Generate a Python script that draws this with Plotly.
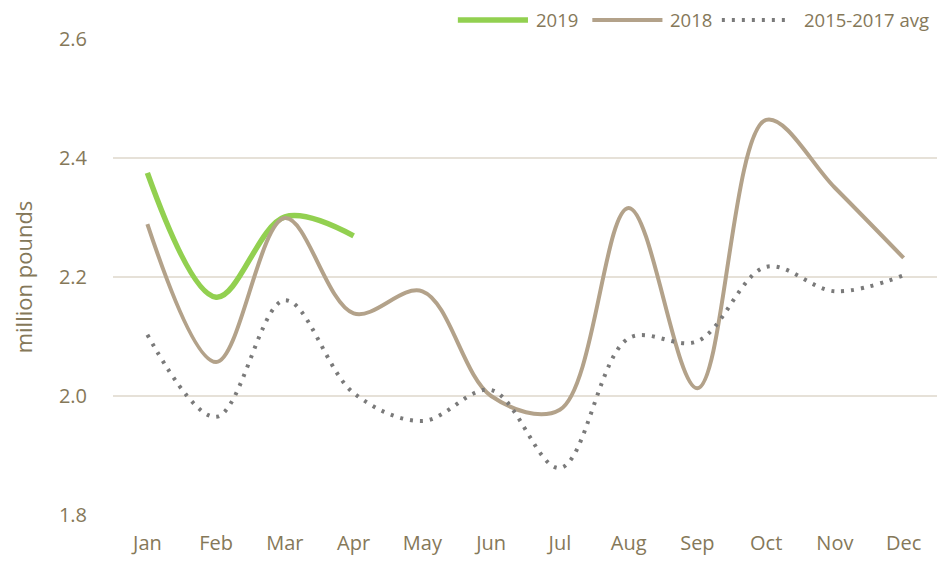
import plotly.graph_objects as go

months = ["Jan", "Feb", "Mar", "Apr", "May", "Jun", "Jul", "Aug", "Sep", "Oct", "Nov", "Dec"]
y2019 = [2.375, 2.166, 2.301, 2.269]
y2018 = [2.289, 2.057, 2.299, 2.139, 2.176, 2.000, 1.977, 2.316, 2.013, 2.464, 2.350, 2.232]
avg_15_17 = [2.103, 1.965, 2.161, 2.005, 1.958, 2.010, 1.879, 2.097, 2.092, 2.217, 2.176, 2.203]

series_names = ["2019", "2018", "2015-2017 avg"]
series_colors = ["#92d050", "#b3a28a", "#7a7a7a"]
series_widths = [5.5, 4, 4]
series_dash = ["solid", "solid", "3px,7px"]

text_color = "#857859"
grid_color = "#e6e1d8"

fig = go.Figure()
for name, xs, ys, c, w, d in zip(series_names, [months[:len(y2019)], months, months],
                                 [y2019, y2018, avg_15_17], series_colors, series_widths, series_dash):
    fig.add_trace(go.Scatter(x=xs, y=ys, name=name, mode="lines", showlegend=False,
                             line=dict(color=c, width=w, dash=d, shape="spline", smoothing=1.0)))

# manual legend (long line samples like the original)
leg_y = 1.04
leg_lines = [(0.418, 0.503), (0.581, 0.666), (0.738, 0.816)]
leg_text_x = [0.510, 0.673, 0.835]
for (x0, x1), tx, name, c, w, d in zip(leg_lines, leg_text_x, series_names, series_colors,
                                       series_widths, series_dash):
    fig.add_shape(type="line", xref="paper", yref="paper", x0=x0, x1=x1, y0=leg_y, y1=leg_y,
                  line=dict(color=c, width=w, dash=d))
    fig.add_annotation(xref="paper", yref="paper", x=tx, y=leg_y, text=name, showarrow=False,
                       xanchor="left", yanchor="middle",
                       font=dict(size=18.5, color=text_color))

fig.update_layout(
    width=937, height=554,
    margin=dict(l=105, r=7, t=31, b=47),
    plot_bgcolor="white", paper_bgcolor="white",
    font=dict(family="Open Sans, sans-serif", size=20, color=text_color),
    showlegend=False,
    xaxis=dict(type="category", range=[-0.5, 11.5], showgrid=False, zeroline=False,
               showline=False, ticks="", ticklabelstandoff=14,
               tickfont=dict(size=20, color=text_color)),
    yaxis=dict(range=[1.8, 2.6], dtick=0.2, tickformat=".1f", showgrid=True,
               gridcolor=grid_color, gridwidth=2, zeroline=False, showline=False,
               ticks="", ticklabelstandoff=25, tickfont=dict(size=20, color=text_color),
               title=dict(text="million pounds", font=dict(size=22, color=text_color), standoff=22)),
)

fig.write_html("out.html")
